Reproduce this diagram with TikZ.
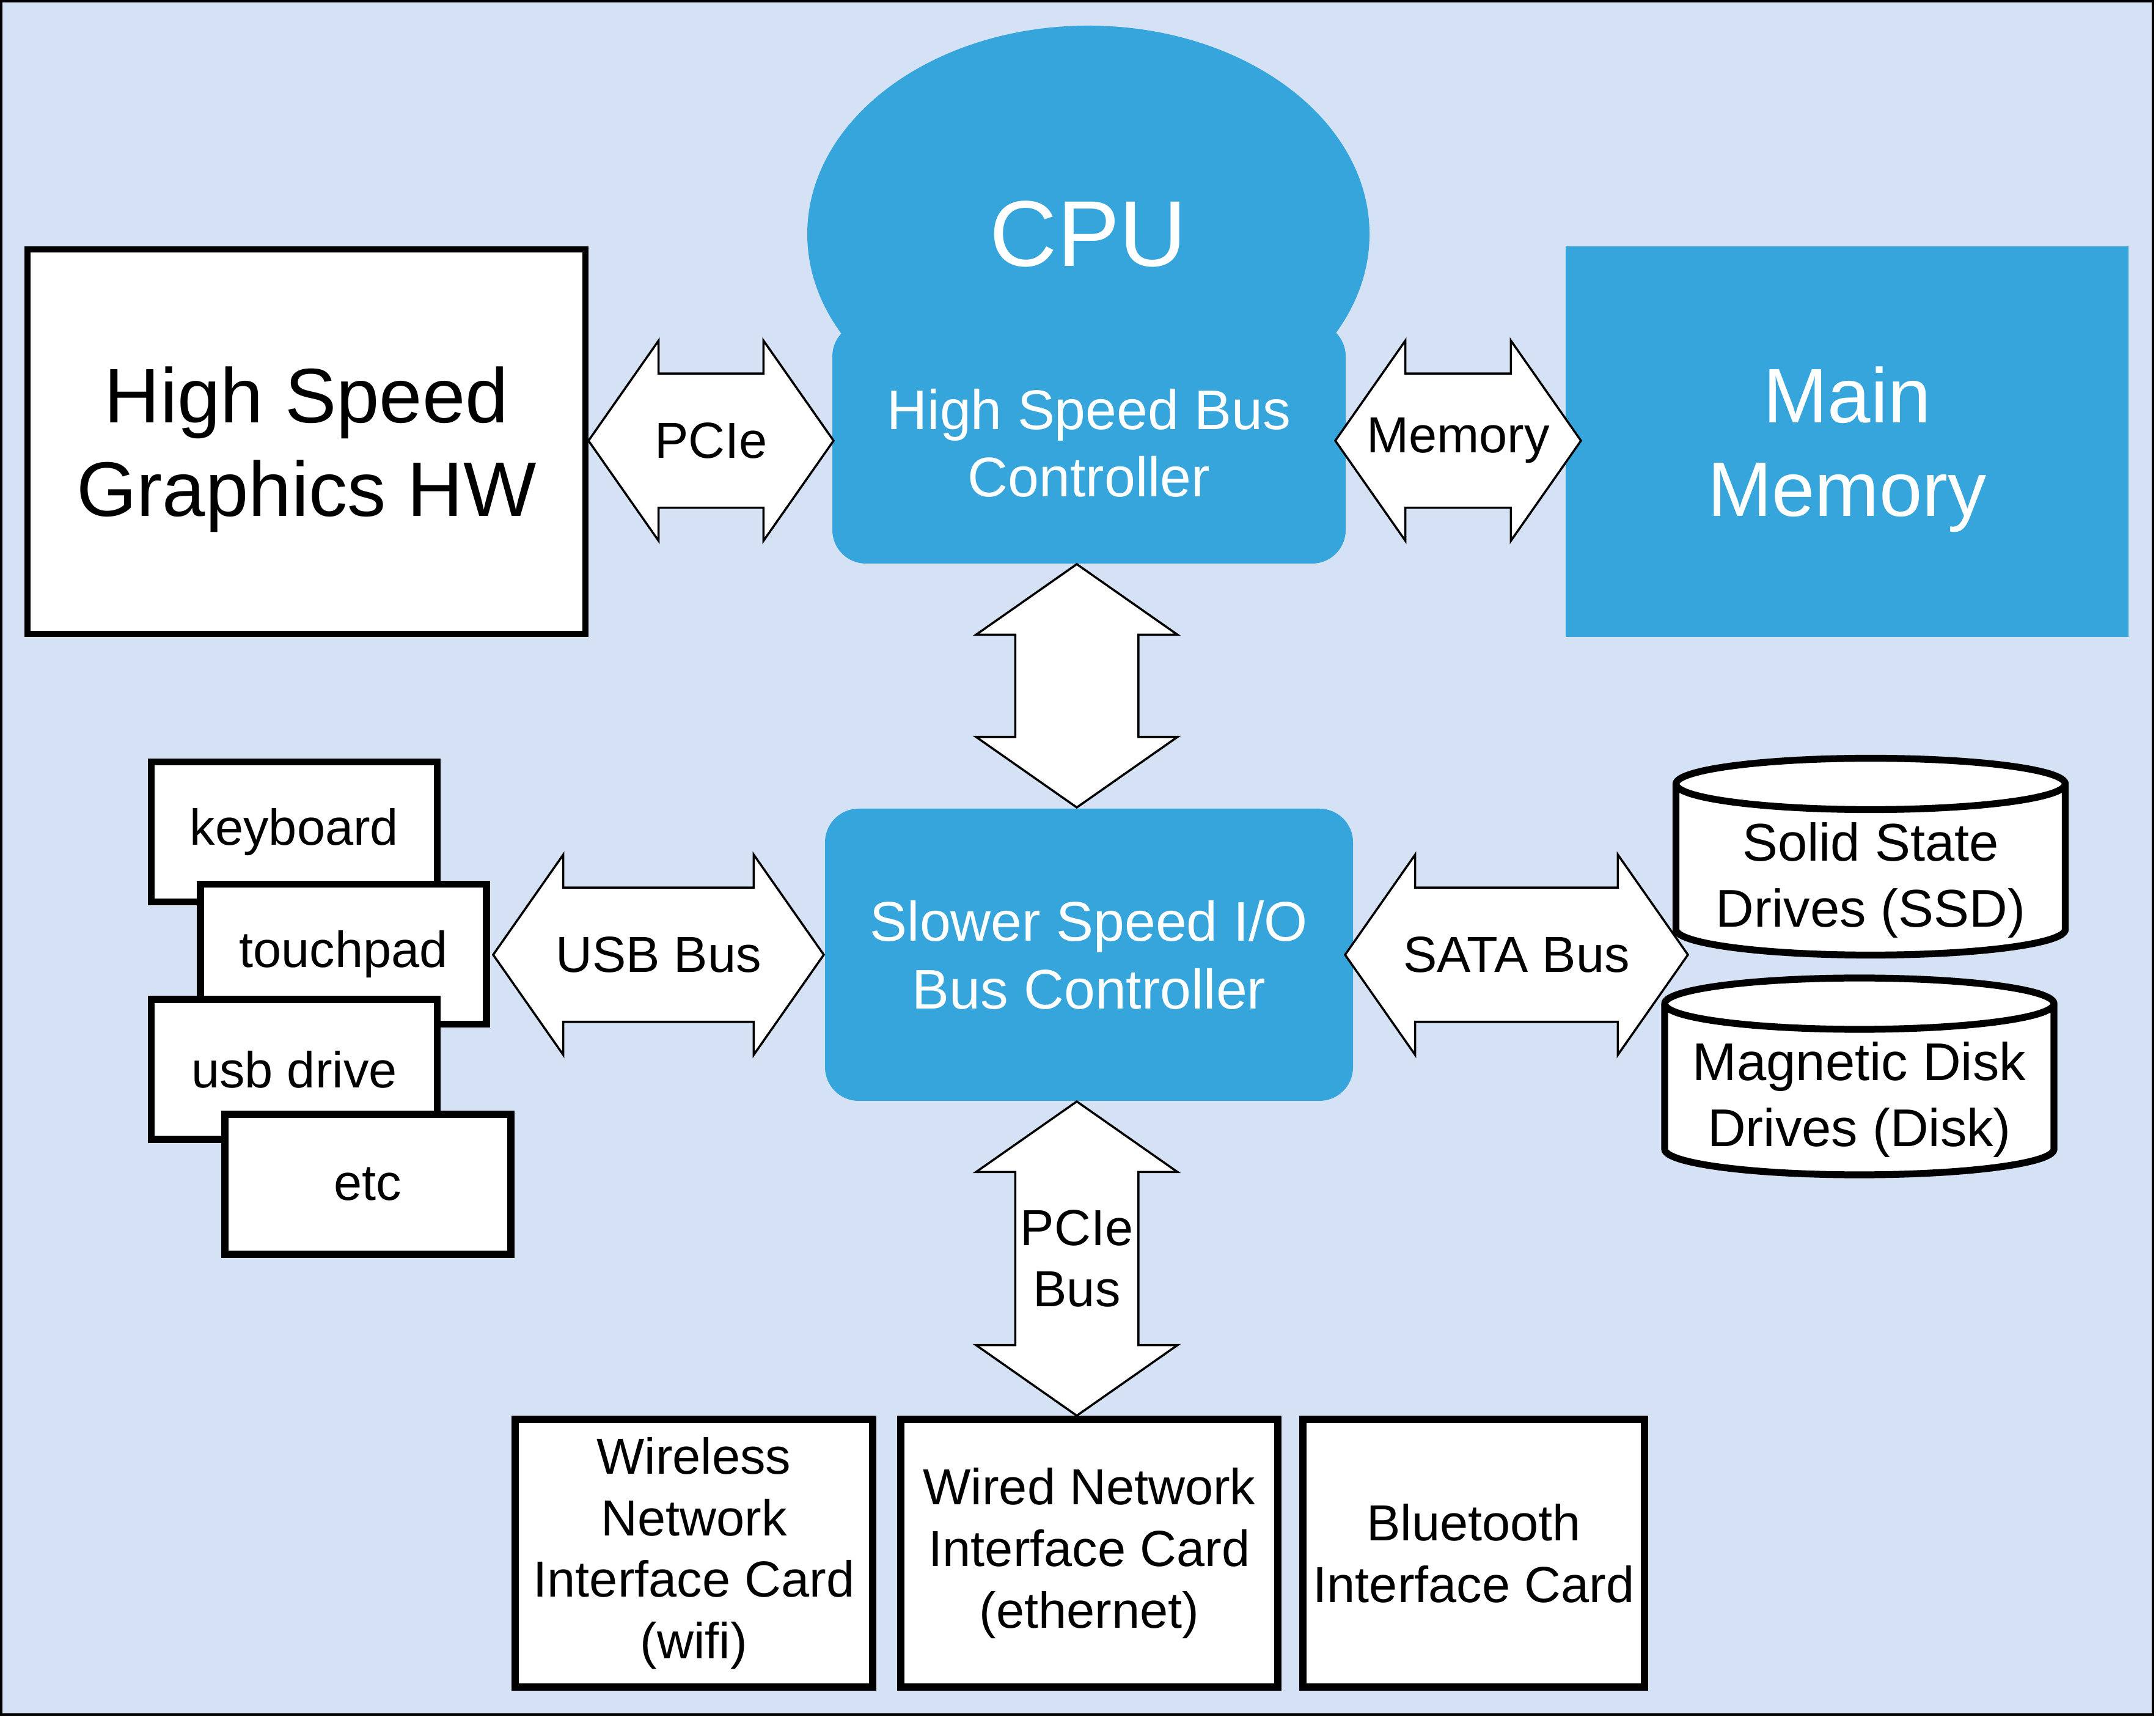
\documentclass[tikz,border=0pt]{standalone}
\usepackage{fontspec}
\setmainfont{Liberation Sans}
\usetikzlibrary{shapes.geometric, shapes.arrows}
\definecolor{boardbg}{RGB}{213,225,244}
\definecolor{chipblue}{RGB}{54,165,219}

\begin{document}
\begin{tikzpicture}[
    cpu/.style={ellipse, fill=chipblue, text=white, minimum width=9.2cm,
                minimum height=6.82cm, inner sep=0pt,
                font=\fontsize{43.5}{52}\selectfont},
    ctrl/.style={rectangle, rounded corners=0.55cm, fill=chipblue, text=white,
                 align=center, inner sep=0pt,
                 font=\fontsize{26}{31.5}\selectfont},
    hwbox/.style={rectangle, draw=black, fill=white, line width=3pt,
                  align=center, inner sep=0pt, text depth=0pt,
                  font=\fontsize{36}{43.5}\selectfont},
    membox/.style={rectangle, fill=chipblue, text=white, align=center,
                   inner sep=0pt, text depth=0pt,
                   font=\fontsize{36}{43.5}\selectfont},
    device/.style={rectangle, draw=black, fill=white, line width=3.2pt,
                   minimum width=4.68cm, minimum height=2.29cm, inner sep=0pt,
                   font=\fontsize{23.6}{28.7}\selectfont},
    card/.style={rectangle, draw=black, fill=white, line width=3.4pt,
                 minimum height=4.38cm, align=center, inner sep=0pt,
                 font=\fontsize{23.6}{28.7}\selectfont},
    disk/.style={cylinder, shape border rotate=90, draw=black, fill=white,
                 line width=3.2pt, aspect=0.21, minimum width=6.37cm,
                 minimum height=3.22cm, inner xsep=2cm, inner ysep=0pt,
                 anchor=shape center},
    disklabel/.style={inner sep=0pt, align=center, yshift=0.05cm,
                      font=\fontsize{24.7}{30.7}\selectfont},
    busarrow/.style={double arrow, draw=black, fill=white, line width=1pt,
                     double arrow tip angle=110, double arrow head extend=0.54cm,
                     minimum width=3.24cm, inner xsep=0pt, inner ysep=1.08cm},
    vbusarrow/.style={busarrow, shape border rotate=90,
                      double arrow head extend=0.64cm, minimum width=3.26cm,
                      inner xsep=0.99cm, inner ysep=0pt},
    busname/.style={inner sep=0pt, align=center,
                    font=\fontsize{23.6}{28.7}\selectfont},
]

% ─── Board background ─────────────────────────────────────────────
\useasboundingbox (0,0) rectangle (35.28,28.08);
\draw[line width=1.2pt, fill=boardbg] (0.02,0.03) rectangle (35.23,28.06);

% ─── CPU package: ellipse with the high speed controller in front ─
\node[cpu] (cpu) at (17.81, 24.25) {CPU};
\node[ctrl, minimum width=8.4cm, minimum height=3.94cm] (hsbc)
     at (17.82, 20.83) {High Speed Bus\\Controller};

% ─── Graphics and main memory ─────────────────────────────────────
\node[hwbox, minimum width=9.13cm, minimum height=6.29cm] (gfx)
     at (5.015, 20.855) {High Speed\\Graphics HW};
\node[membox, minimum width=9.21cm, minimum height=6.39cm] (mem)
     at (30.225, 20.855) {Main\\Memory};

% ─── Slower I/O controller ────────────────────────────────────────
\node[ctrl, minimum width=8.64cm, minimum height=4.78cm] (io)
     at (17.82, 12.46) {Slower Speed I/O\\Bus Controller};

% ─── USB devices, stacked ─────────────────────────────────────────
\node[device] (kbd)  at (4.815, 14.47)  {keyboard};
\node[device] (tpad) at (5.62, 12.47)   {touchpad};
\node[device] (usbd) at (4.815, 10.585) {usb drive};
\node[device] (etc)  at (6.02, 8.705)   {etc};

% ─── Drives on the SATA bus ───────────────────────────────────────
% text sits a little below the middle, under the top lid
\node[disk, label={[disklabel]center:{Solid State\\Drives (SSD)}}]
     (ssd) at (30.61, 14.065) {};
\node[disk, label={[disklabel]center:{Magnetic Disk\\Drives (Disk)}}]
     (hdd) at (30.425, 10.47) {};

% ─── Cards on the PCIe bus ────────────────────────────────────────
\node[card, minimum width=5.85cm] (wifi) at (11.355, 2.67)
     {Wireless\\Network\\Interface Card\\(wifi)};
\node[card, minimum width=6.17cm] (eth)  at (17.825, 2.67)
     {Wired Network\\Interface Card\\(ethernet)};
\node[card, minimum width=5.59cm] (bt)   at (24.115, 2.67)
     {Bluetooth\\Interface Card};

% ─── Bus arrows ───────────────────────────────────────────────────
\node[busarrow, minimum height=4.01cm, label={[busname]center:PCIe}]
     (pcie) at (11.635, 20.87) {};
\node[busarrow, minimum height=4.02cm, label={[busname]center:Memory}]
     (membus) at (23.86, 20.87) {};
\node[vbusarrow, minimum height=3.98cm] (sysbus) at (17.62, 16.86) {};
\node[busarrow, minimum height=5.41cm, label={[busname]center:USB Bus}]
     (usb) at (10.775, 12.46) {};
\node[busarrow, minimum height=5.61cm, label={[busname]center:SATA Bus}]
     (sata) at (24.815, 12.46) {};
\node[vbusarrow, minimum height=5.14cm,
      label={[busname]center:{PCIe\\Bus}}] (pciebus) at (17.62, 7.49) {};

\end{tikzpicture}
\end{document}
